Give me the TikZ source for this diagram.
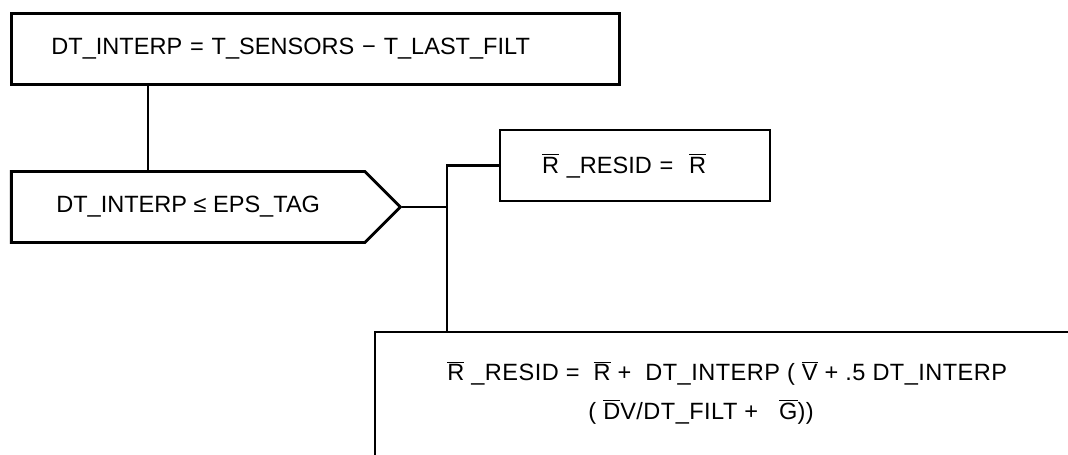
\documentclass[tikz,border=0pt]{standalone}
\usepackage{fontspec}
\setmainfont{Liberation Sans}
\usetikzlibrary{positioning,shapes.symbols}
\newcommand{\ovl}[1]{$\overline{\mbox{#1}}$}
\tikzset{
  stmt/.style={draw, minimum height=1.42cm, align=left, inner ysep=0pt},
  test/.style={draw, signal, signal to=east, signal pointer angle=90,
    minimum width=7.78cm, minimum height=1.42cm, inner ysep=0pt},
}

\begin{document}
\begin{tikzpicture}[line width=1.6pt, font=\fontsize{13.4}{22}\selectfont]
\useasboundingbox (0,0) rectangle (21.36,-9.08);
% statements
\node[stmt, anchor=north west, text width=10.56cm, inner xsep=0.8cm] (interp) at (0.2,-0.24)
  {DT\_INTERP = T\_SENSORS − T\_LAST\_FILT};
\node[test, anchor=west] (cond) at (0.2,-4.14) {DT\_INTERP ≤ EPS\_TAG};
\node[stmt, text width=3.72cm, inner xsep=0.84cm] (resid) at (12.7,-3.31)
  {\ovl{R} \_RESID = \ \ovl{R}};
\coordinate (upd) at (8.94,-6.64);
\draw (7.5,-9.3) |- (21.6,-6.64);
\node[anchor=west, inner sep=0pt, align=left, font=\fontsize{13.4}{22}\selectfont\addfontfeature{LetterSpace=2}] (update) at (8.92,-7.85)
  {\ovl{R} \_RESID = \ \ovl{R} + \ DT\_INTERP ( \ovl{V} + .5 DT\_INTERP\\
   \hspace{2.82cm}( \ovl{D}V/DT\_FILT + \ \ \ovl{G}))};
% links
\draw ([xshift=2.76cm]interp.south west) -- ([xshift=2.76cm]cond.north west);
\draw (cond.east) -- (cond.east -| upd);
\draw (resid.west) -| (upd);
\end{tikzpicture}
\end{document}
